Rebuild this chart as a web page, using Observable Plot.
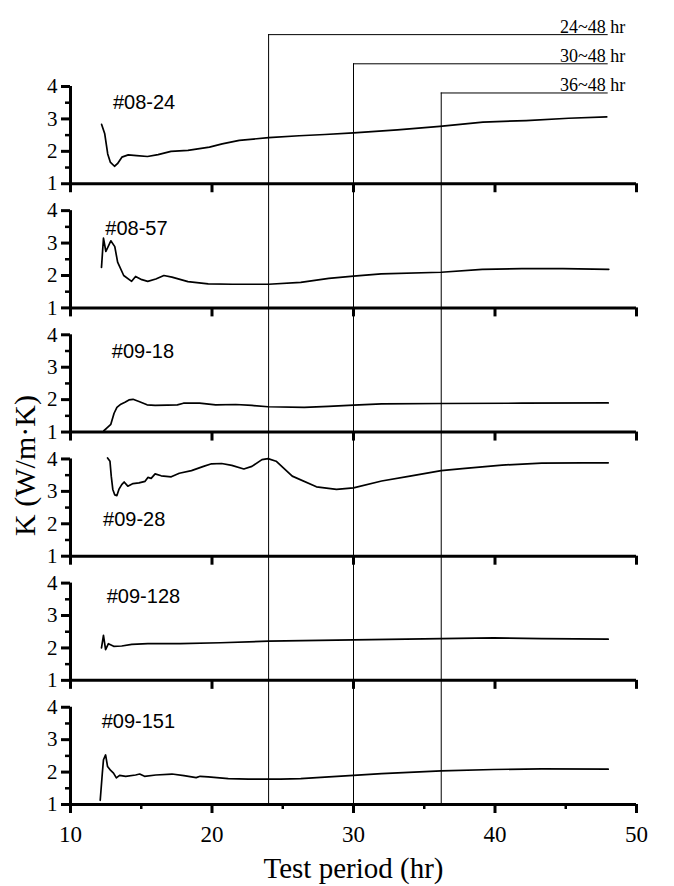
<!DOCTYPE html>
<html>
<head>
<meta charset="utf-8">
<script src="https://cdn.jsdelivr.net/npm/d3@7"></script>
<script src="https://cdn.jsdelivr.net/npm/@observablehq/plot@0.6"></script>
<style>
  html, body { margin: 0; padding: 0; background: #fff; }
  #chart svg { display: block; }
</style>
</head>
<body>
<div id="chart"></div>
<script>
// ---- data ----
const samples = ["#08-24", "#08-57", "#09-18", "#09-28", "#09-128", "#09-151"];

const t0824 = [12.2,12.42,12.63,12.81,13.11,13.32,13.63,14.08,14.68,15.44,16.19,17.1,18.3,19.82,20.72,21.93,24,26.16,27.98,30,33.1,36.1,39.15,42.2,45.2,47.9];
const k0824 = [2.83,2.54,1.92,1.67,1.54,1.62,1.82,1.89,1.87,1.84,1.9,2.0,2.03,2.13,2.23,2.34,2.42,2.48,2.52,2.57,2.66,2.77,2.9,2.95,3.02,3.06];

const t0857 = [12.19,12.33,12.5,12.85,13.13,13.33,13.76,14.32,14.6,15.04,15.46,16.03,16.6,17.17,18.3,19.73,21.44,24,26.27,28.26,30,31.96,36.2,39.1,41.9,44.8,48.04];
const k0857 = [2.25,3.15,2.74,3.07,2.89,2.41,2.0,1.82,1.97,1.87,1.82,1.89,2.0,1.95,1.81,1.74,1.73,1.73,1.79,1.91,1.98,2.05,2.1,2.19,2.21,2.21,2.19];

const t0918 = [12.36,12.56,12.85,13.08,13.28,13.56,13.85,14.13,14.42,14.84,15.41,15.98,16.84,17.55,17.98,19.12,20.26,21.68,22.82,23.96,26.52,28.23,30,31.99,36.2,41.9,48];
const k0918 = [1.04,1.12,1.24,1.58,1.76,1.86,1.92,1.99,2.01,1.94,1.84,1.82,1.83,1.84,1.89,1.89,1.84,1.85,1.82,1.78,1.76,1.79,1.83,1.87,1.88,1.89,1.9];

const t0928 = [12.62,12.79,12.88,12.99,13.13,13.28,13.42,13.62,13.79,14.05,14.42,14.84,15.27,15.47,15.7,15.98,16.41,17.12,17.69,18.55,19.4,19.97,20.68,21.4,22.25,22.82,23.53,23.96,24.53,25.67,27.38,28.8,30,31.99,33.99,36.2,37.69,40.5,43.3,46.2,48];
const k0928 = [4.03,3.93,3.47,3.06,2.89,2.87,3.06,3.21,3.29,3.16,3.24,3.26,3.31,3.43,3.4,3.54,3.48,3.45,3.56,3.64,3.77,3.85,3.86,3.8,3.69,3.77,3.98,4.01,3.93,3.47,3.14,3.06,3.11,3.32,3.47,3.64,3.7,3.81,3.87,3.88,3.88];

const t09128 = [12.19,12.33,12.48,12.68,13.05,13.62,14.33,15.47,17.75,20.6,24,30,36.2,39.9,43.3,48];
const k09128 = [2.0,2.39,1.95,2.13,2.05,2.06,2.11,2.13,2.13,2.16,2.21,2.25,2.29,2.31,2.29,2.27];

const t09151 = [12.1,12.25,12.33,12.48,12.62,12.84,13.04,13.24,13.47,13.9,14.6,14.89,15.23,16.03,17.17,18.02,18.88,19.16,19.73,21.15,22.57,24.85,26.27,28.26,30,31.99,36.2,39.9,43.3,48];
const k09151 = [1.13,1.97,2.38,2.53,2.17,2.05,1.97,1.82,1.9,1.87,1.91,1.94,1.87,1.91,1.94,1.89,1.83,1.87,1.85,1.8,1.78,1.78,1.8,1.85,1.9,1.95,2.04,2.08,2.1,2.09];

// label anchor of each sample name (x in hr, y in K)
const labelX = [13.0, 12.46, 12.92, 12.3, 12.56, 12.2];
const labelK = [3.5, 3.44, 3.49, 2.13, 3.59, 3.55];

// averaging windows drawn as brackets (start hr, end hr, height in top-panel K units)
const windowStart = [24, 30, 36.2];
const windowEnd = 48;
const windowTopK = [5.6, 4.7, 3.8];
const windowLabels = ["24~48 hr", "30~48 hr", "36~48 hr"];

const xTicks = [10, 20, 30, 40, 50];
const xMinor = [15, 25, 35, 45];
const yTicks = [1, 2, 3, 4];
const yMinor = [1.5, 2.5, 3.5];

const xTitle = "Test period (hr)";
const yTitle = "K (W/m·K)";

// ---- build tables ----
const times = [t0824, t0857, t0918, t0928, t09128, t09151];
const values = [k0824, k0857, k0918, k0928, k09128, k09151];
const GAP = 3.83; // vertical spacing between stacked panels, in K units
const panels = samples.map((s, i) => ({sample: s, i, off: (samples.length - 1 - i) * GAP}));
const topOff = panels[0].off;

const lineData = panels.flatMap(p => times[p.i].map((t, j) => ({sample: p.sample, t, y: values[p.i][j] + p.off})));
const labelData = panels.map(p => ({text: p.sample, x: labelX[p.i], y: labelK[p.i] + p.off}));
const yTickData = panels.flatMap(p => yTicks.map(v => ({v, y: v + p.off})));
const yMinorData = panels.flatMap(p => yMinor.map(v => ({v, y: v + p.off})));
const xTickData = panels.flatMap(p => xTicks.map(v => ({v, y: 1 + p.off})));
const bottom = panels[panels.length - 1];
const xMinorData = xMinor.map(v => ({v, y: 1 + bottom.off}));
const windows = windowStart.map((s, i) => ({s, e: windowEnd, top: windowTopK[i] + topOff, label: windowLabels[i]}));
const yMid = (1 + 4 + topOff) / 2; // vertical centre of the stacked panels

const serif = "'Liberation Serif', 'Times New Roman', serif";
const sans = "'Liberation Sans', Arial, sans-serif";

const chart = Plot.plot({
  width: 674,
  height: 886,
  marginLeft: 70,
  marginRight: 38,
  marginTop: 86,
  marginBottom: 82,
  x: {domain: [10, 50], axis: null},
  y: {domain: [1, 4 + topOff], axis: null},
  style: {background: "#fff", color: "#000"},
  marks: [
    // window brackets
    Plot.ruleX(windows, {x: "s", y1: 1 + bottom.off, y2: "top", stroke: "#000", strokeWidth: 1}),
    Plot.ruleY(windows, {y: "top", x1: "s", x2: "e", stroke: "#000", strokeWidth: 1}),
    Plot.text(windows, {x: "e", y: "top", text: "label", textAnchor: "end", lineAnchor: "bottom", dx: 17, dy: -2, fontFamily: serif, fontSize: 18, fill: "#000"}),
    // x axis lines per panel
    Plot.ruleY(panels, {y: d => 1 + d.off, x1: 10, x2: 50, stroke: "#000", strokeWidth: 3}),
    // y axis lines per panel
    Plot.ruleX(panels, {x: 10, y1: d => 1 + d.off, y2: d => 4 + d.off, stroke: "#000", strokeWidth: 3}),
    // x ticks
    Plot.ruleX(xTickData, {x: "v", y1: "y", y2: "y", insetBottom: -9, stroke: "#000", strokeWidth: 3}),
    Plot.ruleX(xMinorData, {x: "v", y1: "y", y2: "y", insetBottom: -5, stroke: "#000", strokeWidth: 2.5}),
    // y ticks
    Plot.ruleY(yTickData, {y: "y", x1: 10, x2: 10, insetLeft: -9, stroke: "#000", strokeWidth: 3}),
    Plot.ruleY(yMinorData, {y: "y", x1: 10, x2: 10, insetLeft: -5, stroke: "#000", strokeWidth: 2.5}),
    // y tick labels
    Plot.text(yTickData, {x: 10, y: "y", text: d => String(d.v), textAnchor: "end", dx: -13, fontFamily: serif, fontSize: 21, fill: "#000"}),
    // x tick labels (bottom panel)
    Plot.text(xTicks, {x: d => d, y: 1 + bottom.off, text: d => String(d), dy: 30, fontFamily: serif, fontSize: 23, fill: "#000"}),
    // curves
    Plot.line(lineData, {x: "t", y: "y", z: "sample", stroke: "#000", strokeWidth: 1.7}),
    // sample labels
    Plot.text(labelData, {x: "x", y: "y", text: "text", textAnchor: "start", fontFamily: sans, fontSize: 20, fill: "#000"}),
    // axis titles
    Plot.text([xTitle], {x: 30, y: 1 + bottom.off, text: d => d, dy: 64, fontFamily: serif, fontSize: 29, fill: "#000"}),
    Plot.text([yTitle], {x: 10, y: yMid, text: d => d, rotate: -90, dx: -45, dy: 20, fontFamily: serif, fontSize: 30, fill: "#000"})
  ]
});
document.getElementById("chart").appendChild(chart);
</script>
</body>
</html>
